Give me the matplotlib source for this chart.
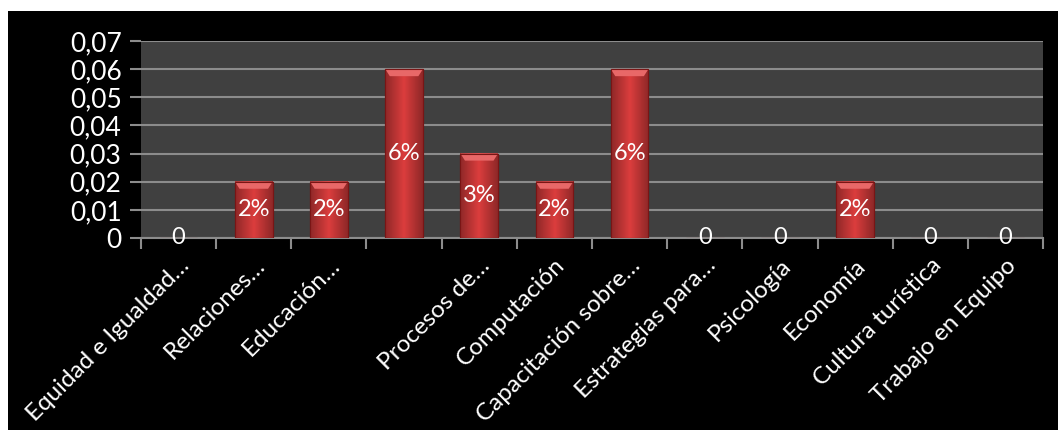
import matplotlib.pyplot as plt
import matplotlib.patches as mpatches
import numpy as np

plt.rcParams['font.family'] = ['Lato', 'DejaVu Sans']

categorias = ['Equidad e Igualdad…', 'Relaciones…', 'Educación…', '',
              'Procesos de…', 'Computación', 'Capacitación sobre…',
              'Estrategias para…', 'Psicología', 'Economía',
              'Cultura turística', 'Trabajo en Equipo']
valores = [0, 0.02, 0.02, 0.06, 0.03, 0.02, 0.06, 0, 0, 0.02, 0, 0]
y_ticks = [0, 0.01, 0.02, 0.03, 0.04, 0.05, 0.06, 0.07]
y_labels = ['0', '0,01', '0,02', '0,03', '0,04', '0,05', '0,06', '0,07']

W, H = 1058, 434
fig = plt.figure(figsize=(W / 100, H / 100), dpi=100, facecolor='white')
# black chart area inside a thin white margin
fig.patches.append(mpatches.Rectangle((8 / W, 4 / H), 1050 / W, 419 / H,
                                      transform=fig.transFigure,
                                      facecolor='black', edgecolor='none', zorder=-10))

ax = fig.add_axes([141 / W, 1 - 238 / H, 902 / W, 197 / H])
ax.set_facecolor('#404040')

x = np.arange(len(categorias))
bars = ax.bar(x, valores, width=0.5, color='#c83a3a', edgecolor='#7a1515',
              linewidth=0.8, zorder=3)

# shaded body and bevelled top for each bar
grad = np.linspace(0, 1, 64)
shade = 1 - 0.35 * np.abs(grad - 0.5) * 2
body = np.zeros((1, 64, 3))
body[0, :, 0] = 0.86 * shade
body[0, :, 1] = 0.24 * shade
body[0, :, 2] = 0.24 * shade
bevel = 0.0025
for b in bars:
    h = b.get_height()
    if h <= 0:
        continue
    x0, w = b.get_x(), b.get_width()
    ax.imshow(body, extent=(x0, x0 + w, 0, h), aspect='auto', zorder=3.5,
              interpolation='bilinear')
    ax.add_patch(mpatches.Polygon([(x0, h), (x0 + w, h),
                                   (x0 + w * 0.88, h - bevel), (x0 + w * 0.12, h - bevel)],
                                  closed=True, facecolor='#e86868', edgecolor='none',
                                  zorder=3.6))
    ax.add_patch(mpatches.Rectangle((x0, 0), w, h, facecolor='none',
                                    edgecolor='#7a1515', linewidth=0.8, zorder=3.7))

for xi, v in zip(x, valores):
    txt = '0' if v == 0 else f'{v * 100:.0f}%'
    ax.text(xi, v / 2, txt, ha='center', va='center', color='white',
            fontsize=17, zorder=5)

ax.set_xlim(-0.5, len(categorias) - 0.5)
ax.set_ylim(0, 0.07)
ax.set_yticks(y_ticks)
ax.set_yticklabels(y_labels, fontsize=19, color='white')
ax.yaxis.grid(True, color='#8c8c8c', linewidth=1.5, zorder=1)
ax.set_axisbelow(True)

ax.set_xticks(np.arange(len(categorias) + 1) - 0.5)
ax.set_xticklabels([])
ax.set_xticks(x, minor=True)
ax.set_xticklabels(categorias, minor=True, rotation=45, ha='right',
                   rotation_mode='anchor', fontsize=17.5, color='white')
ax.tick_params(axis='x', which='minor', length=0, pad=12)
ax.tick_params(axis='x', which='major', length=8, width=1.5, color='#8c8c8c')
ax.tick_params(axis='y', length=8, width=1.5, color='#8c8c8c', pad=6)

for s in ['top', 'right', 'left']:
    ax.spines[s].set_visible(False)
ax.spines['bottom'].set_color('#8c8c8c')
ax.spines['bottom'].set_linewidth(1.5)

fig.savefig('out.png', dpi=100, facecolor='white')
